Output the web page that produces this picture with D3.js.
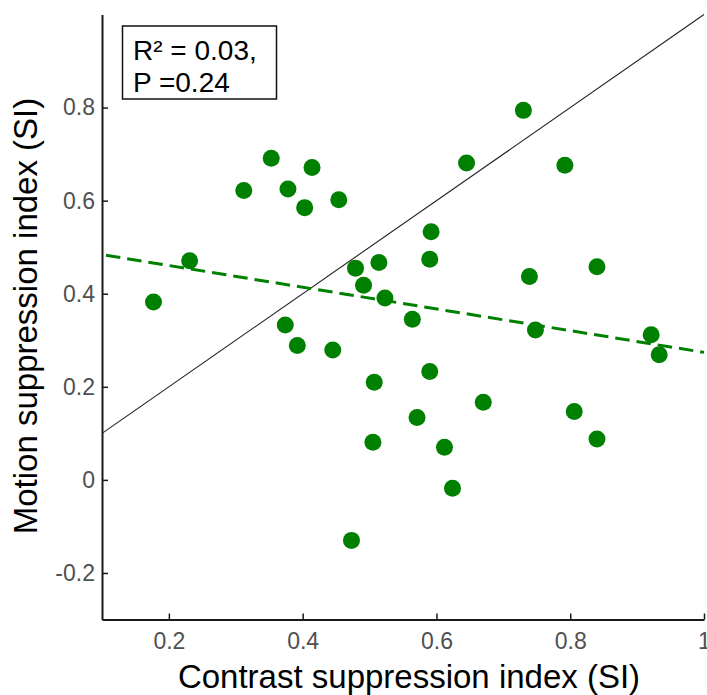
<!DOCTYPE html>
<html>
<head>
<meta charset="utf-8">
<script src="https://cdn.jsdelivr.net/npm/d3@7"></script>
<style>
  html, body { margin: 0; padding: 0; background: #fff; }
  svg { display: block; font-family: "Liberation Sans", Arial, Helvetica, sans-serif; }
</style>
</head>
<body>
<svg id="chart" width="707" height="695"></svg>
<script>
// Contrast suppression index (x) vs motion suppression index (y), one point per subject
const contrastSI = [
  0.177, 0.231, 0.312, 0.353, 0.378, 0.414, 0.403, 0.454, 0.374, 0.392,
  0.445, 0.479, 0.514, 0.491, 0.523, 0.564, 0.592, 0.590, 0.590, 0.507,
  0.473, 0.505, 0.571, 0.612, 0.624, 0.670, 0.645, 0.730, 0.792, 0.739,
  0.748, 0.840, 0.806, 0.840, 0.921, 0.933
];
const motionSI = [
  0.382, 0.471, 0.622, 0.691, 0.625, 0.671, 0.585, 0.602, 0.333, 0.289,
  0.279, 0.455, 0.467, 0.418, 0.391, 0.345, 0.533, 0.474, 0.233, 0.210,
  -0.130, 0.081, 0.134, 0.070, -0.018, 0.167, 0.681, 0.794, 0.676, 0.437,
  0.322, 0.458, 0.147, 0.088, 0.312, 0.269
];

// Least-squares fit line (endpoints) and identity line
const fitX = [0.1, 1.0];
const fitY = [0.484, 0.274];
const unityX = [0.1, 1.0];
const unityY = [0.1, 1.0];

// Axis ticks
const xTicks = [0.2, 0.4, 0.6, 0.8, 1.0];
const xTickLabels = ["0.2", "0.4", "0.6", "0.8", "1"];
const yTicks = [-0.2, 0, 0.2, 0.4, 0.6, 0.8];
const yTickLabels = ["-0.2", "0", "0.2", "0.4", "0.6", "0.8"];

const statLines = ["R\u00B2 = 0.03,", "P =0.24"];
const xTitle = "Contrast suppression index (SI)";
const yTitle = "Motion suppression index (SI)";

const svg = d3.select("#chart");

const x = d3.scaleLinear().domain([0.1, 1.0]).range([102, 704]);
const y = d3.scaleLinear().domain([-0.3, 1.0]).range([619.5, 14.5]);

const axisColor = "#1a1a1a";

// x axis (ticks point inward)
const xAxis = d3.axisBottom(x)
  .tickValues(xTicks)
  .tickFormat((d, i) => xTickLabels[i])
  .tickSizeInner(-6)
  .tickSizeOuter(0)
  .tickPadding(13);

const gx = svg.append("g")
  .attr("transform", `translate(0,${y(-0.3)})`)
  .call(xAxis);

// y axis
const yAxis = d3.axisLeft(y)
  .tickValues(yTicks)
  .tickFormat((d, i) => yTickLabels[i])
  .tickSizeInner(-6)
  .tickSizeOuter(0)
  .tickPadding(7);

const gy = svg.append("g")
  .attr("transform", `translate(${x(0.1)},0)`)
  .call(yAxis);

[gx, gy].forEach(g => {
  g.select(".domain").attr("stroke", axisColor).attr("stroke-width", 2);
  g.selectAll(".tick line").attr("stroke", axisColor).attr("stroke-width", 1.5);
  g.selectAll(".tick text")
    .attr("fill", "#505050")
    .style("font-family", "'Liberation Sans', Arial, sans-serif")
    .style("font-size", "23px");
});

// identity line
const line = d3.line().x(d => x(d[0])).y(d => y(d[1]));
svg.append("path")
  .datum(unityX.map((v, i) => [v, unityY[i]]))
  .attr("d", line)
  .attr("fill", "none")
  .attr("stroke", "#222")
  .attr("stroke-width", 1.1);

// data points
svg.append("g")
  .selectAll("circle")
  .data(contrastSI.map((v, i) => [v, motionSI[i]]))
  .join("circle")
  .attr("cx", d => x(d[0]))
  .attr("cy", d => y(d[1]))
  .attr("r", 8.5)
  .attr("fill", "#008000");

// regression line (dashed)
svg.append("path")
  .datum(fitX.map((v, i) => [v, fitY[i]]))
  .attr("d", line)
  .attr("fill", "none")
  .attr("stroke", "#008000")
  .attr("stroke-width", 3)
  .attr("stroke-dasharray", "14.5,7")
  .attr("stroke-dashoffset", 17.5);

// statistics box
svg.append("rect")
  .attr("x", 122.5).attr("y", 26)
  .attr("width", 154).attr("height", 73)
  .attr("fill", "#fff")
  .attr("stroke", "#111")
  .attr("stroke-width", 1.5);

svg.append("g")
  .selectAll("text")
  .data(statLines)
  .join("text")
  .attr("x", 133)
  .attr("y", (d, i) => 60 + i * 32)
  .attr("fill", "#000")
  .style("font-size", "28px")
  .text(d => d);

// axis titles
svg.append("text")
  .attr("x", (x.range()[0] + x.range()[1]) / 2 + 6)
  .attr("y", 688)
  .attr("text-anchor", "middle")
  .attr("fill", "#000")
  .style("font-size", "33px")
  .text(xTitle);

svg.append("text")
  .attr("transform", `translate(37,${(y.range()[0] + y.range()[1]) / 2 - 1}) rotate(-90)`)
  .attr("text-anchor", "middle")
  .attr("fill", "#000")
  .style("font-size", "33px")
  .text(yTitle);
</script>
</body>
</html>
